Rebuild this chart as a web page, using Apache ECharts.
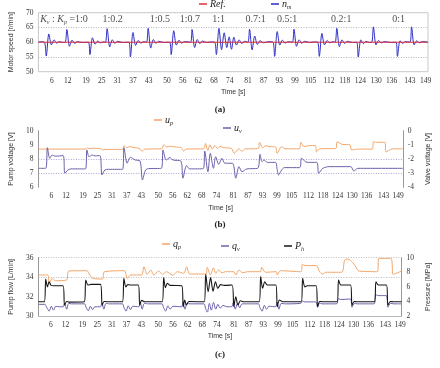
<!DOCTYPE html>
<html>
<head>
<meta charset="utf-8">
<script src="https://cdn.jsdelivr.net/npm/echarts@6/dist/echarts.min.js"></script>
<style>
html, body { margin: 0; padding: 0; background: #fff; }
#main { width: 440px; height: 368px; }
</style>
</head>
<body>
<div id="main"></div>
<script>
// x tick labels, shared by the three panels
var timeTicks = [6, 12, 19, 25, 31, 37, 43, 50, 56, 62, 68, 74, 81, 87, 93, 99, 105, 112, 118, 124, 130, 136, 143, 149];

// (a) motor speed [t, r/min]
var refSpeed = [[0.8, 60], [149.9, 60]];
var motorSpeed = [
  [0.8,60],[2,60.2],[3.2,59.9],[3.8,55.3],[4.8,62.8],[5.8,59.1],[6.8,60.8],[7.8,59.7],[8.8,60.2],[10.2,59.9],[11.1,60],
  [11.7,64.3],[12.7,58.6],[13.7,60.7],[14.7,59.6],[15.7,60.2],[17.5,59.9],[19.9,60],
  [20.5,55.8],[21.5,61.5],[22.5,59.3],[23.5,60.4],[24.5,59.8],[25.8,60.1],
  [26.5,60],[27.1,64.6],[28.1,58.4],[29.1,60.8],[30.1,59.6],[31.1,60.3],[33,59.9],[35.4,60],
  [36,55],[37,63.3],[38,58.9],[39,60.6],[40,59.7],[41.2,60.2],[42.2,60],
  [42.8,64.7],[43.8,58],[44.8,60.9],[45.8,59.6],[46.8,60.3],[48.8,59.9],[51,60],
  [51.6,55.8],[52.6,63.9],[53.6,59],[54.6,60.7],[55.6,59.7],[56.8,60.2],[59,60],
  [59.6,64.3],[60.6,58.2],[61.6,60.9],[62.6,59.5],[63.6,60.4],[65.2,59.9],[67,60.1],[68.3,60],
  [68.9,55.8],[69.9,64.7],[70.9,57.5],[71.9,63.2],[72.9,58.2],[73.8,61.8],[74.7,57.6],[75.6,61.7],[76.6,59],[77.6,60.8],[78.6,59.6],[79.8,60.3],[81,60],
  [81.6,64.4],[82.6,57.4],[83.6,62.1],[84.6,59.2],[85.6,60.5],[87,59.8],[89,60.2],[90.6,60],
  [91.2,55.2],[92.2,63.6],[93.2,59],[94.2,60.7],[95.2,59.7],[96.5,60.2],[98,60],
  [98.6,64.4],[99.6,58.6],[100.6,60.8],[101.6,59.6],[102.6,60.3],[104.5,59.9],[106.5,60.1],[107.7,60],
  [108.3,55.2],[109.3,63],[110.3,59.1],[111.3,60.6],[112.3,59.8],[113.6,60.2],[114.4,60],
  [115,64.7],[116,58.5],[117,60.8],[118,59.6],[119,60.3],[121,59.9],[122.6,60],
  [123.2,55],[124.2,60.8],[125.2,59.5],[126.2,60.3],[127.4,59.9],[128.4,60],
  [129,65.2],[130,59.1],[131,60.6],[132,59.8],[133.4,60.2],[135.5,59.9],[137.6,60],
  [138.2,55.2],[139.2,60.5],[140.2,59.6],[141.2,60.2],[143,60],
  [143.6,65.2],[144.6,59.1],[145.6,60.5],[146.6,59.8],[147.8,60.2],[149.9,60]
];
// gain ratio annotations in (a)
var ratioTimes = [10.6, 29.2, 47.3, 58.8, 69.8, 83.9, 96, 116.7, 138.7];
var ratioLabels = ['K_v : K_p =1:0', '1:0.2', '1:0.5', '1:0.7', '1:1', '0.7:1', '0.5:1', '0.2:1', '0:1'];

// (b) pump voltage [t, V] and valve voltage [t, V]
var pumpVoltage = [
  [0.6,8.7],[20.2,8.7],[20.8,8.78],[22,8.74],[23.5,8.77],[25,8.74],[26.3,8.74],[27,8.63],[28,8.68],[35.3,8.68],
  [36,8.95],[37,8.8],[38.2,8.88],[40,8.8],[42.2,8.75],[43.4,8.55],[44.5,8.7],[51.5,8.72],
  [52.3,9.0],[53.5,8.85],[55,8.9],[57,8.85],[59.5,8.8],[60.5,8.55],[61.5,8.7],[68.8,8.72],
  [69.5,9.1],[70.5,8.6],[71.3,9.0],[72.3,8.7],[73.3,8.95],[74.5,8.75],[75.5,8.9],[77,8.8],[80.2,8.75],
  [81.3,8.4],[83.3,8.72],[84.6,8.55],[86,8.72],[91.2,8.72],[91.8,9.18],[93.1,8.8],[94.4,8.94],[95.7,8.88],[98.4,8.85],
  [99,8.4],[101,8.88],[102.3,8.72],[108.2,8.72],[108.8,9.18],[110.1,8.88],[112,8.94],[114.8,8.95],
  [115.3,8.5],[116.6,8.72],[123.2,8.74],[123.8,9.22],[125.8,9.04],[129.1,9.0],[129.7,8.64],[132.3,8.7],[138.3,8.7],
  [138.8,9.22],[140,9.18],[143.5,9.18],[144,8.5],[146.6,8.72],[150.9,8.72]
];
var valveVoltage = [
  [0.6,-2.66],[3.6,-2.66],[4.3,-1.2],[5.3,-1.95],[6.3,-1.72],[7.5,-1.8],[10.8,-1.76],[11.5,-3.01],[12.8,-2.78],[14,-2.7],[20,-2.7],
  [20.6,-1.36],[21.5,-1.84],[22.8,-1.72],[24,-1.78],[26,-1.76],[26.8,-3.13],[28,-2.78],[29.5,-2.73],[35.3,-2.73],
  [35.9,-1.2],[37.2,-2.3],[38.5,-1.88],[40.5,-2.07],[42.5,-2.14],[43.5,-3.48],[44.8,-2.78],[46,-2.68],[51.3,-2.66],
  [52,-1.36],[53.3,-2.07],[54.8,-1.9],[56.1,-2.07],[59.3,-2.14],[60.2,-3.36],[61.7,-2.47],[63,-2.7],[68.6,-2.68],
  [69.2,-1.44],[70.5,-2.9],[71.5,-1.6],[72.8,-2.66],[73.7,-1.84],[75,-2.38],[76.3,-1.95],[77.5,-2.3],[80.6,-2.3],
  [82,-3.36],[83.3,-2.54],[84.6,-2.9],[86.6,-2.7],[91,-2.66],[92,-1.67],[92.8,-2.19],[93.7,-2.07],[95,-2.24],[98.4,-2.24],
  [99,-2.66],[99.6,-3.13],[100.9,-2.78],[102,-2.61],[108.3,-2.61],[109.1,-1.95],[110.8,-2.19],[112,-2.24],[115.4,-2.24],
  [116.2,-3.01],[117.9,-2.66],[120.5,-2.54],[129.4,-2.54],[130.7,-2.85],[132.3,-2.66],[150.9,-2.66]
];

// (c) pump flow [t, L/min], valve flow [t, L/min], pressure [t, MPa]
var pumpFlow = [
  [0.9,34.22],[4.7,34.22],[5.3,33.36],[6.6,33.87],[7.9,33.63],[12.4,33.7],[13.4,34.63],[20.7,34.66],[22,34.2],[23.3,33.87],
  [27.1,33.8],[28,34.56],[36,34.66],[37.3,33.87],[38.6,34.22],[43.1,34.22],[44.1,35.07],[45.4,34.29],[46.9,34.73],[48.2,34.2],
  [50.1,34.63],[51.8,34.29],[53.3,34.56],[55.9,34.2],[57.8,34.56],[60.4,34.4],[61.6,35.07],[62.9,34.32],[69.5,34.32],
  [70,35.01],[71.3,34.22],[72.5,34.94],[73.5,34.4],[74.7,34.73],[76,34.45],[77.5,34.56],[80.8,34.56],[81.7,34.22],[83,34.73],
  [84.6,34.45],[86.5,34.56],[91.8,34.56],[92.3,35.01],[93.9,34.5],[98.3,34.56],[98.7,34.22],[100,34.66],[108.3,34.56],
  [109,35.32],[110,35.2],[114.7,35.18],[116,34.56],[117.3,34.3],[118.5,34.5],[125,34.5],[126.3,35.76],[127.6,35.86],
  [129.5,35.52],[130.8,35.07],[132.1,34.63],[139.7,34.56],[140.3,35.93],[145.2,35.93],[146.1,34.29],[147.4,34.4],[149.6,34.63]
];
var valveFlow = [
  [0.9,31.2],[3.5,31.2],[4.3,30.9],[5.3,30.5],[6.2,31.0],[7.1,30.6],[8,31.0],[9.5,30.95],[11,30.95],[11.6,31.3],[12.5,30.7],[13.3,31.3],[14.5,31.25],[19.8,31.25],
  [20.4,30.9],[21.3,30.55],[22.2,31.0],[23.1,30.65],[24,30.95],[26.3,30.95],[26.9,31.35],[27.7,30.7],[28.6,31.3],[30,31.25],[35.3,31.25],
  [35.9,30.9],[36.8,30.5],[37.7,31.05],[38.6,30.65],[39.5,31.0],[42,30.95],[42.6,31.4],[43.4,30.7],[44.3,31.3],[46,31.25],[51.5,31.25],
  [52.1,30.9],[53,30.5],[53.9,31.05],[54.8,30.7],[56,31.0],[59.5,30.95],[60.1,31.4],[60.9,30.7],[61.8,31.3],[63,31.25],[68.7,31.25],
  [69.3,30.8],[70.1,30.4],[70.9,31.3],[71.7,30.6],[72.6,31.4],[73.5,30.7],[74.4,31.2],[75.3,30.8],[76.5,31.1],[78,30.95],[80,30.95],
  [80.7,31.4],[81.5,30.7],[82.4,31.3],[83.3,30.85],[84.3,31.25],[86,31.25],[91,31.25],[91.6,30.85],[92.5,30.5],[93.4,31.1],[94.3,30.7],
  [95.3,31.0],[98,30.95],[98.6,31.4],[99.4,30.7],[100.3,31.3],[102,31.25],[108.2,31.3],[109,31.55],[110,31.45],[114.5,31.45],
  [115.2,30.9],[116,31.35],[117,31.25],[123,31.25],[123.7,31.8],[124.6,31.7],[128.6,31.75],[129.3,30.9],[130.2,31.3],[131.5,31.25],
  [138.3,31.25],[139,32.2],[140,32.1],[143.3,32.1],[144,30.9],[145,31.3],[146.5,31.25],[149.6,31.25]
];
var pressure = [
  [0.9,3.95],[3.3,3.95],[3.9,7.07],[4.6,6.0],[5.3,6.7],[6,6.25],[7,6.16],[11,6.16],[11.6,3.5],[12.5,4.0],[13.5,3.9],[19.7,3.95],
  [20.3,6.94],[21.2,6.25],[22.5,6.34],[26.3,6.34],[27,3.5],[27.8,4.0],[29,3.95],[35.3,3.95],[35.9,7.17],[36.7,6.0],[37.5,6.3],[38.5,6.25],
  [41.8,6.25],[42.4,3.5],[43.2,4.15],[44.5,3.95],[51.6,3.95],[52.2,7.26],[52.9,5.9],[53.7,6.48],[54.8,6.2],[59.6,6.16],[60.2,3.28],
  [60.8,4.2],[61.5,3.5],[62.5,4.0],[68.8,3.95],[69.4,7.71],[70.4,5.34],[71.4,7.26],[72.4,5.4],[73.4,6.7],[74.4,5.8],[75.5,6.3],[77,6.2],
  [80.2,6.25],[80.9,3.28],[81.7,4.65],[82.6,3.5],[83.6,4.1],[85,3.95],[91.3,3.95],[91.9,7.4],[92.7,5.8],[93.6,6.7],[94.6,6.25],[98.1,6.25],
  [98.7,3.28],[99.6,4.2],[101,3.95],[108.5,3.95],[109.1,7.17],[110,6.0],[111,6.16],[114.6,6.16],[115.2,3.28],[116.1,4.0],[117.5,3.95],
  [123.2,3.95],[123.8,6.94],[124.8,6.25],[128.7,6.25],[129.3,3.5],[130.2,4.0],[131.5,3.95],[138.5,3.95],[139.1,6.7],[140.1,6.25],
  [143.4,6.25],[144,3.5],[145,4.0],[146.5,3.95],[149.6,3.95]
];

var chart = echarts.init(document.getElementById('main'));

var serif = 'Liberation Serif';
var sans = 'Liberation Sans';
var ORANGE = '#f2a568', PURPLE = '#6b60aa';

var richText = {
  i: { fontFamily: serif, fontStyle: 'italic', fontSize: 10, color: '#222' },
  s: { fontFamily: serif, fontStyle: 'italic', fontSize: 6, color: '#222', padding: [7, 0, 0, 0] },
  n: { fontFamily: serif, fontSize: 10, color: '#222' }
};
var legendNames = {
  'Ref.': '{i|Ref.}', 'n_m': '{i|n}{s|m}', 'u_p': '{i|u}{s|p}', 'u_v': '{i|u}{s|v}',
  'q_p': '{i|q}{s|p}', 'q_v': '{i|q}{s|v}', 'P_h': '{i|P}{s|h}'
};
function oneLegend(name, left, top) {
  return {
    data: [name], left: left, top: top, icon: 'rect', itemWidth: 8, itemHeight: 1.5,
    itemGap: 0, selectedMode: false, padding: 0,
    formatter: function (n) { return legendNames[n]; },
    textStyle: { rich: richText, padding: [0, 0, 0, -2] }
  };
}

function timeAxis(gridIndex, min, max, line) {
  return {
    type: 'value', gridIndex: gridIndex, min: min, max: max,
    name: 'Time [s]', nameLocation: 'middle', nameGap: 17,
    nameTextStyle: { fontFamily: sans, fontSize: 7, color: '#333' },
    axisLine: { show: line, lineStyle: { color: '#bbb' } },
    axisTick: { show: false },
    splitLine: { show: false },
    axisLabel: { customValues: timeTicks, fontFamily: serif, fontSize: 7.5, color: '#333', margin: 5 }
  };
}
function valueAxis(gridIndex, min, max, interval, name, pos, gap, gridColors, line) {
  return {
    type: 'value', gridIndex: gridIndex, min: min, max: max, interval: interval, position: pos,
    name: name, nameLocation: 'middle', nameGap: gap,
    nameTextStyle: { fontFamily: sans, fontSize: 7, color: '#333' },
    axisLine: { show: line, lineStyle: { color: '#999' } },
    axisTick: { show: false },
    axisLabel: { fontFamily: serif, fontSize: 7.5, color: '#333', margin: 5 },
    splitLine: gridColors ? { show: true, lineStyle: { color: gridColors, type: [1, 1.5], width: 1 } } : { show: false }
  };
}

var T = 'rgba(0,0,0,0)';

chart.setOption({
  animation: false,
  title: [
    { text: '(a)', left: 'center', top: 100, textStyle: { fontFamily: serif, fontSize: 9, fontWeight: 'bold', color: '#222' } },
    { text: '(b)', left: 'center', top: 215, textStyle: { fontFamily: serif, fontSize: 9, fontWeight: 'bold', color: '#222' } },
    { text: '(c)', left: 'center', top: 345, textStyle: { fontFamily: serif, fontSize: 9, fontWeight: 'bold', color: '#222' } }
  ],
  legend: [
    oneLegend('Ref.', 199, -1), oneLegend('n_m', 271, -1),
    oneLegend('u_p', 154, 115), oneLegend('u_v', 223, 123),
    oneLegend('q_p', 162, 239), oneLegend('q_v', 221, 241), oneLegend('P_h', 284, 241)
  ],
  grid: [
    { left: 27.7, top: 12.7, width: 400.3, height: 59, show: true, borderColor: '#c8c8c8', borderWidth: 1 },
    { left: 24, top: 130.7, width: 383.7, height: 56.6 },
    { left: 26.7, top: 257.7, width: 387.6, height: 58.3 }
  ],
  xAxis: [
    timeAxis(0, 0.8, 149.9, false),
    timeAxis(1, 0.6, 150.9, false),
    timeAxis(2, 0.9, 149.6, true)
  ],
  yAxis: [
    valueAxis(0, 50, 70, 5, 'Motor speed [r/min]', 'left', 17, [T, '#b5b5b5', '#b5b5b5', '#b5b5b5', T], false),
    valueAxis(1, 6, 10, 1, 'Pump voltage [V]', 'left', 13, [T, '#a8a8d8', '#a8a8d8', T, T], true),
    valueAxis(1, -4, 0, 1, 'Valve voltage [V]', 'right', 19, null, true),
    valueAxis(2, 30, 36, 2, 'Pump flow [L/min]', 'left', 15, [T, T, '#bdbdbd', '#bdbdbd'], true),
    valueAxis(2, 2, 10, 2, 'Pressure [MPa]', 'right', 15, null, true)
  ],
  series: [
    { name: 'n_m', type: 'line', xAxisIndex: 0, yAxisIndex: 0, data: motorSpeed, showSymbol: false, smooth: 0.3,
      lineStyle: { color: '#2d2dc2', width: 1 }, itemStyle: { color: '#2d2dc2' } },
    { name: 'Ref.', type: 'line', xAxisIndex: 0, yAxisIndex: 0, data: refSpeed, showSymbol: false,
      lineStyle: { color: '#e0303a', width: 1 }, itemStyle: { color: '#e0303a' } },
    { type: 'scatter', xAxisIndex: 0, yAxisIndex: 0, symbolSize: 0.1, silent: true,
      data: ratioTimes.map(function (t, i) { return { value: [t, 67.8], name: ratioLabels[i] }; }),
      label: { show: true, position: 'inside', rich: richText,
        formatter: function (p) {
          if (p.name.indexOf('K_v') === 0) return '{i|K}{s|v}{n| : }{i|K}{s|p}{n| =1:0}';
          return '{n|' + p.name + '}';
        } } },
    { name: 'u_p', type: 'line', xAxisIndex: 1, yAxisIndex: 1, data: pumpVoltage, showSymbol: false, smooth: 0.3,
      lineStyle: { color: ORANGE, width: 1 }, itemStyle: { color: ORANGE } },
    { name: 'u_v', type: 'line', xAxisIndex: 1, yAxisIndex: 2, data: valveVoltage, showSymbol: false, smooth: 0.3,
      lineStyle: { color: PURPLE, width: 1 }, itemStyle: { color: PURPLE } },
    { name: 'q_p', type: 'line', xAxisIndex: 2, yAxisIndex: 3, data: pumpFlow, showSymbol: false, smooth: 0.3,
      lineStyle: { color: ORANGE, width: 1 }, itemStyle: { color: ORANGE } },
    { name: 'q_v', type: 'line', xAxisIndex: 2, yAxisIndex: 3, data: valveFlow, showSymbol: false, smooth: 0.3,
      lineStyle: { color: PURPLE, width: 1 }, itemStyle: { color: PURPLE } },
    { name: 'P_h', type: 'line', xAxisIndex: 2, yAxisIndex: 4, data: pressure, showSymbol: false, smooth: 0.3,
      lineStyle: { color: '#161616', width: 1.1 }, itemStyle: { color: '#161616' } }
  ]
});
</script>
</body>
</html>
